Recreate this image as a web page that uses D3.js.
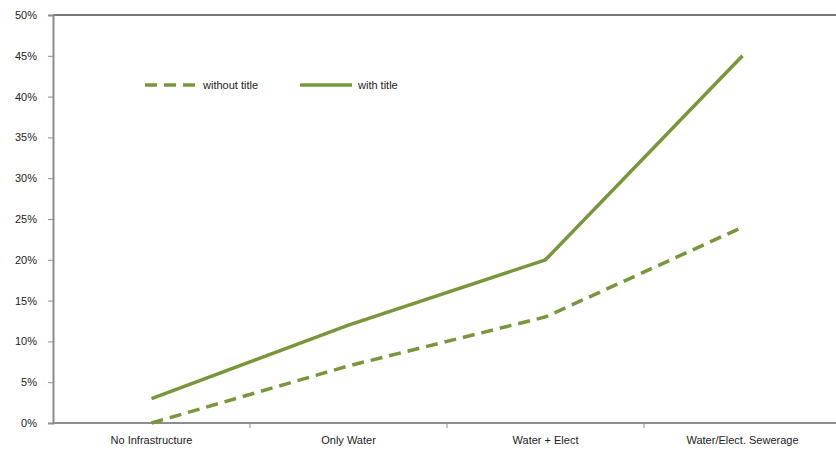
<!DOCTYPE html>
<html>
<head>
<meta charset="utf-8">
<script src="https://cdn.jsdelivr.net/npm/d3@7"></script>
<style>
  html, body { margin: 0; padding: 0; background: #fff; }
  svg { display: block; font-family: "Liberation Sans", Arial, sans-serif; }
</style>
</head>
<body>
<svg id="chart" width="836" height="455"></svg>
<script>
// Categories along the x axis
const categories = ["No Infrastructure", "Only Water", "Water + Elect", "Water/Elect. Sewerage"];
// Series values, in percent
const withoutTitle = [0, 7, 13, 24];
const withTitle = [3, 12, 20, 45];
// Y tick values, in percent
const yTicks = [0, 5, 10, 15, 20, 25, 30, 35, 40, 45, 50];

const series = [
  { name: "without title", values: withoutTitle, dash: "12,7" },
  { name: "with title", values: withTitle, dash: null }
];

const svg = d3.select("#chart");
const plotLeft = 53, plotTop = 15, plotBottom = 423;
const bandW = 197;
const plotRight = plotLeft + bandW * categories.length;
const green = "#77973a";
const axisColor = "#8c8c8c";

const x = d3.scaleBand().domain(categories).range([plotLeft, plotRight]).padding(0);
const y = d3.scaleLinear().domain([0, 50]).range([plotBottom, plotTop]);

// Top frame line of the plot area
svg.append("line")
  .attr("x1", plotLeft).attr("x2", 836)
  .attr("y1", plotTop).attr("y2", plotTop)
  .attr("stroke", "#777").attr("stroke-width", 2);

// Y axis
const yAxis = svg.append("g")
  .attr("transform", `translate(${plotLeft},0)`)
  .call(d3.axisLeft(y).tickValues(yTicks).tickFormat(d => d + "%").tickSize(5).tickPadding(11));
yAxis.select(".domain").attr("stroke", axisColor).attr("stroke-width", 2);
yAxis.selectAll(".tick line").attr("stroke", axisColor);
yAxis.selectAll(".tick text").attr("font-size", 11).attr("fill", "#222");

// X axis: ticks sit between categories
const xAxis = svg.append("g")
  .attr("transform", `translate(0,${plotBottom})`)
  .call(d3.axisBottom(x).tickSize(0).tickPadding(13));
xAxis.select(".domain").remove();
xAxis.selectAll(".tick text").attr("font-size", 11).attr("fill", "#222");
svg.append("line")
  .attr("x1", plotLeft).attr("x2", 836)
  .attr("y1", plotBottom).attr("y2", plotBottom)
  .attr("stroke", axisColor).attr("stroke-width", 2);
svg.append("g").selectAll("line")
  .data(categories.slice(1))
  .join("line")
  .attr("x1", d => x(d)).attr("x2", d => x(d))
  .attr("y1", plotBottom).attr("y2", plotBottom + 5)
  .attr("stroke", axisColor);

// Series lines
const line = d3.line()
  .x((d, i) => x(categories[i]) + x.bandwidth() / 2)
  .y(d => y(d));

svg.append("g").selectAll("path")
  .data(series)
  .join("path")
  .attr("d", d => line(d.values))
  .attr("fill", "none")
  .attr("stroke", green)
  .attr("stroke-width", 3.5)
  .attr("stroke-dasharray", d => d.dash)
  .attr("stroke-linejoin", "round");

// Legend
const legendY = 85;
const legendItems = [
  { s: series[0], x0: 145 },
  { s: series[1], x0: 300 }
];
const lg = svg.append("g");
legendItems.forEach(it => {
  lg.append("line")
    .attr("x1", it.x0).attr("x2", it.x0 + 52)
    .attr("y1", legendY).attr("y2", legendY)
    .attr("stroke", green).attr("stroke-width", 3.5)
    .attr("stroke-dasharray", it.s.dash ? "12,7" : null);
  lg.append("text")
    .attr("x", it.x0 + 58).attr("y", legendY + 4)
    .attr("font-size", 11).attr("fill", "#222")
    .text(it.s.name);
});
</script>
</body>
</html>
